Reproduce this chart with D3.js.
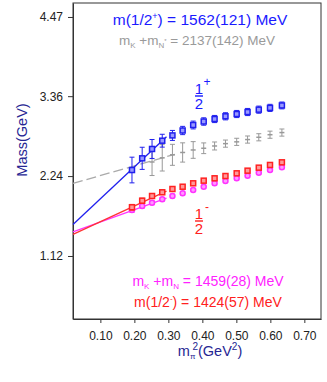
<!DOCTYPE html>
<html>
<head>
<meta charset="utf-8">
<script src="https://cdn.jsdelivr.net/npm/d3@7"></script>
<style>
    body { margin: 0; background: #fff; }
    svg { display: block; font-family: "Liberation Sans", Arial, sans-serif; }
    .axis text { font-size: 12px; fill: #222; }
    .axis path, .axis line { stroke: #333; }
</style>
</head>
<body>
<div id="chart"></div>
<script>
// m_pi^2 (GeV^2) for every ensemble
const mpi2 = [0.193, 0.223, 0.252, 0.282, 0.312, 0.342, 0.373, 0.404, 0.436, 0.468, 0.501, 0.533, 0.566, 0.599, 0.634];

// 1/2+ (blue)
const massPlus = [2.325, 2.489, 2.620, 2.736, 2.810, 2.879, 2.956, 3.005, 3.040, 3.078, 3.110, 3.138, 3.171, 3.196, 3.230];
const errPlus = [0.180, 0.155, 0.133, 0.090, 0.070, 0.058, 0.055, 0.052, 0.050, 0.050, 0.050, 0.050, 0.050, 0.050, 0.048];

// mK + mN* (grey), starts at the third ensemble
const mpi2Star = mpi2.slice(2);
const massKNstar = [2.438, 2.496, 2.538, 2.571, 2.606, 2.630, 2.662, 2.695, 2.720, 2.752, 2.784, 2.820, 2.850];
const errKNstar = [0.190, 0.185, 0.147, 0.135, 0.117, 0.075, 0.056, 0.050, 0.050, 0.050, 0.050, 0.050, 0.050];

// 1/2- (red)
const massMinus = [1.803, 1.895, 1.961, 2.013, 2.059, 2.091, 2.139, 2.176, 2.209, 2.241, 2.279, 2.316, 2.358, 2.396, 2.433];
const errMinus = [0.040, 0.035, 0.030, 0.030, 0.025, 0.025, 0.025, 0.022, 0.022, 0.022, 0.022, 0.022, 0.022, 0.022, 0.022];

// mK + mN (magenta)
const massKN = [1.765, 1.821, 1.867, 1.915, 1.961, 1.999, 2.045, 2.091, 2.139, 2.171, 2.209, 2.246, 2.288, 2.326, 2.363];
const errKN = [0.035, 0.030, 0.028, 0.025, 0.025, 0.022, 0.022, 0.022, 0.022, 0.022, 0.022, 0.022, 0.022, 0.022, 0.022];

// chiral fits: [start, end]
const fitX = [0.0195, 0.2945];
const fitPlus = [1.562, 2.790];
const fitMinus = [1.424, 2.030];
const fitKN = [1.459, 1.932];
const fitStarX = [0.0195, 0.319];
const fitKNstar = [2.137, 2.545];

const xTicks = [0.10, 0.20, 0.30, 0.40, 0.50, 0.60, 0.70];
const yTicks = [1.12, 2.24, 3.36, 4.47];

const width = 327, height = 382;
const margin = { top: 3, right: 6, bottom: 63, left: 73 };

const svg = d3.select("#chart").append("svg")
    .attr("width", width)
    .attr("height", height);

const x = d3.scaleLinear().domain([0.0195, 0.749]).range([margin.left, width - margin.right]);
const y = d3.scaleLinear().domain([0.237, 4.666]).range([height - margin.bottom, margin.top]);

// frame
svg.append("rect")
    .attr("x", margin.left).attr("y", margin.top)
    .attr("width", width - margin.right - margin.left)
    .attr("height", height - margin.bottom - margin.top)
    .attr("fill", "none").attr("stroke", "#333");

svg.append("g")
    .attr("class", "axis")
    .attr("transform", `translate(0, ${height - margin.bottom})`)
    .call(d3.axisBottom(x).tickValues(xTicks).tickFormat(d3.format(".2f")).tickSize(4).tickPadding(8).tickSizeOuter(0));

svg.append("g")
    .attr("class", "axis")
    .attr("transform", `translate(${margin.left}, 0)`)
    .call(d3.axisLeft(y).tickValues(yTicks).tickFormat(d3.format(".2f")).tickSize(5).tickPadding(5).tickSizeOuter(0));

svg.append("text")
    .attr("transform", "translate(27, 140) rotate(-90)")
    .attr("text-anchor", "middle")
    .style("font-size", "14.5px")
    .attr("fill", "#262693")
    .text("Mass(GeV)");

const xLabel = svg.append("text")
    .attr("x", 210).attr("y", 356)
    .attr("text-anchor", "middle")
    .style("font-size", "14.5px")
    .attr("fill", "#262693");
xLabel.append("tspan").text("m");
xLabel.append("tspan").attr("dy", 3).style("font-size", "8px").text("π");
xLabel.append("tspan").attr("dy", -9).attr("dx", -3).style("font-size", "10px").text("2");
xLabel.append("tspan").attr("dy", 6).text("(GeV");
xLabel.append("tspan").attr("dy", -6).style("font-size", "10px").text("2");
xLabel.append("tspan").attr("dy", 6).text(")");

// fit lines
const drawFit = (xs, ys, color, dash) => {
    svg.append("line")
        .attr("x1", x(xs[0])).attr("y1", y(ys[0]))
        .attr("x2", x(xs[1])).attr("y2", y(ys[1]))
        .attr("stroke", color)
        .attr("stroke-width", 1.3)
        .attr("stroke-dasharray", dash || null);
}

drawFit(fitStarX, fitKNstar, "#aaaaaa", "10,4");
drawFit(fitX, fitKN, "#ff33ff");
drawFit(fitX, fitMinus, "#ff3333");
drawFit(fitX, fitPlus, "#2020ee");

// data points with error bars
const drawSeries = (xs, ys, errs, color, fill, shape) => {
    const g = svg.append("g");
    const pts = xs.map((d, i) => ({ x: d, y: ys[i], e: errs[i] }));
    const pt = g.selectAll("g").data(pts).enter().append("g");

    pt.append("line")
        .attr("x1", d => x(d.x)).attr("x2", d => x(d.x))
        .attr("y1", d => y(d.y - d.e)).attr("y2", d => y(d.y + d.e))
        .attr("stroke", color).attr("stroke-width", 1);
    [-1, 1].forEach(s => {
        pt.append("line")
            .attr("x1", d => x(d.x) - 2.5).attr("x2", d => x(d.x) + 2.5)
            .attr("y1", d => y(d.y + s * d.e)).attr("y2", d => y(d.y + s * d.e))
            .attr("stroke", color).attr("stroke-width", 1);
    });

    if (shape === "circle") {
        pt.append("circle")
            .attr("cx", d => x(d.x)).attr("cy", d => y(d.y)).attr("r", 2.5)
            .attr("fill", fill).attr("stroke", color).attr("stroke-width", 1.5);
    } else if (shape === "cross") {
        pt.append("line")
            .attr("x1", d => x(d.x) - 2.5).attr("x2", d => x(d.x) + 2.5)
            .attr("y1", d => y(d.y)).attr("y2", d => y(d.y))
            .attr("stroke", color).attr("stroke-width", 1.5);
    } else {
        pt.append("rect")
            .attr("x", d => x(d.x) - 2.5).attr("y", d => y(d.y) - 2.5)
            .attr("width", 5).attr("height", 5)
            .attr("fill", fill).attr("stroke", color).attr("stroke-width", 1.5);
    }
}

drawSeries(mpi2Star, massKNstar, errKNstar, "#999999", "none", "cross");
drawSeries(mpi2, massKN, errKN, "#ff33ff", "#ff99ff", "circle");
drawSeries(mpi2, massMinus, errMinus, "#ff2222", "#ff9999", "square");
drawSeries(mpi2, massPlus, errPlus, "#2020ee", "#9999ff", "square");

// annotations
const addLabel = (xPos, yPos, size, color, parts) => {
    const t = svg.append("text")
        .attr("x", xPos).attr("y", yPos)
        .attr("text-anchor", "middle")
        .style("font-size", size + "px")
        .attr("fill", color);
    parts.forEach(p => {
        const s = t.append("tspan").text(p.text);
        if (p.dy) s.attr("dy", p.dy);
        if (p.size) s.style("font-size", p.size + "px");
    });
}

addLabel(200, 25, 15.5, "#1a1aff", [
    { text: "m(1/2" }, { text: "+", dy: -6, size: 9 }, { text: ") = 1562(121) MeV", dy: 6 }
]);
addLabel(197, 45, 13.5, "#9a9a9a", [
    { text: "m" }, { text: "K", dy: 3, size: 8 }, { text: " +m", dy: -3 },
    { text: "N", dy: 3, size: 8 }, { text: "*", dy: -5, size: 6 }, { text: " = 2137(142) MeV", dy: 2 }
]);
addLabel(208, 286, 14, "#ff22ff", [
    { text: "m" }, { text: "K", dy: 3, size: 8 }, { text: " +m", dy: -3 },
    { text: "N", dy: 3, size: 8 }, { text: " = 1459(28) MeV", dy: -3 }
]);
addLabel(208, 307, 14, "#ff2020", [
    { text: "m(1/2" }, { text: "-", dy: -6, size: 8 }, { text: ") = 1424(57) MeV", dy: 6 }
]);

// J^P fractions
const addFraction = (xPos, yLine, color, sign) => {
    svg.append("text").attr("x", xPos).attr("y", yLine - 2.5).attr("text-anchor", "middle")
        .style("font-size", "15px").attr("fill", color).text("1");
    svg.append("line").attr("x1", xPos - 4).attr("x2", xPos + 4)
        .attr("y1", yLine).attr("y2", yLine).attr("stroke", color).attr("stroke-width", 1.4);
    svg.append("text").attr("x", xPos).attr("y", yLine + 13).attr("text-anchor", "middle")
        .style("font-size", "15px").attr("fill", color).text("2");
    svg.append("text").attr("x", xPos + 8).attr("y", yLine - 10).attr("text-anchor", "middle")
        .style("font-size", "12px").attr("fill", color).text(sign);
}

addFraction(199, 96, "#1a1aff", "+");
addFraction(199, 221, "#ff2020", "-");
</script>
</body>
</html>
